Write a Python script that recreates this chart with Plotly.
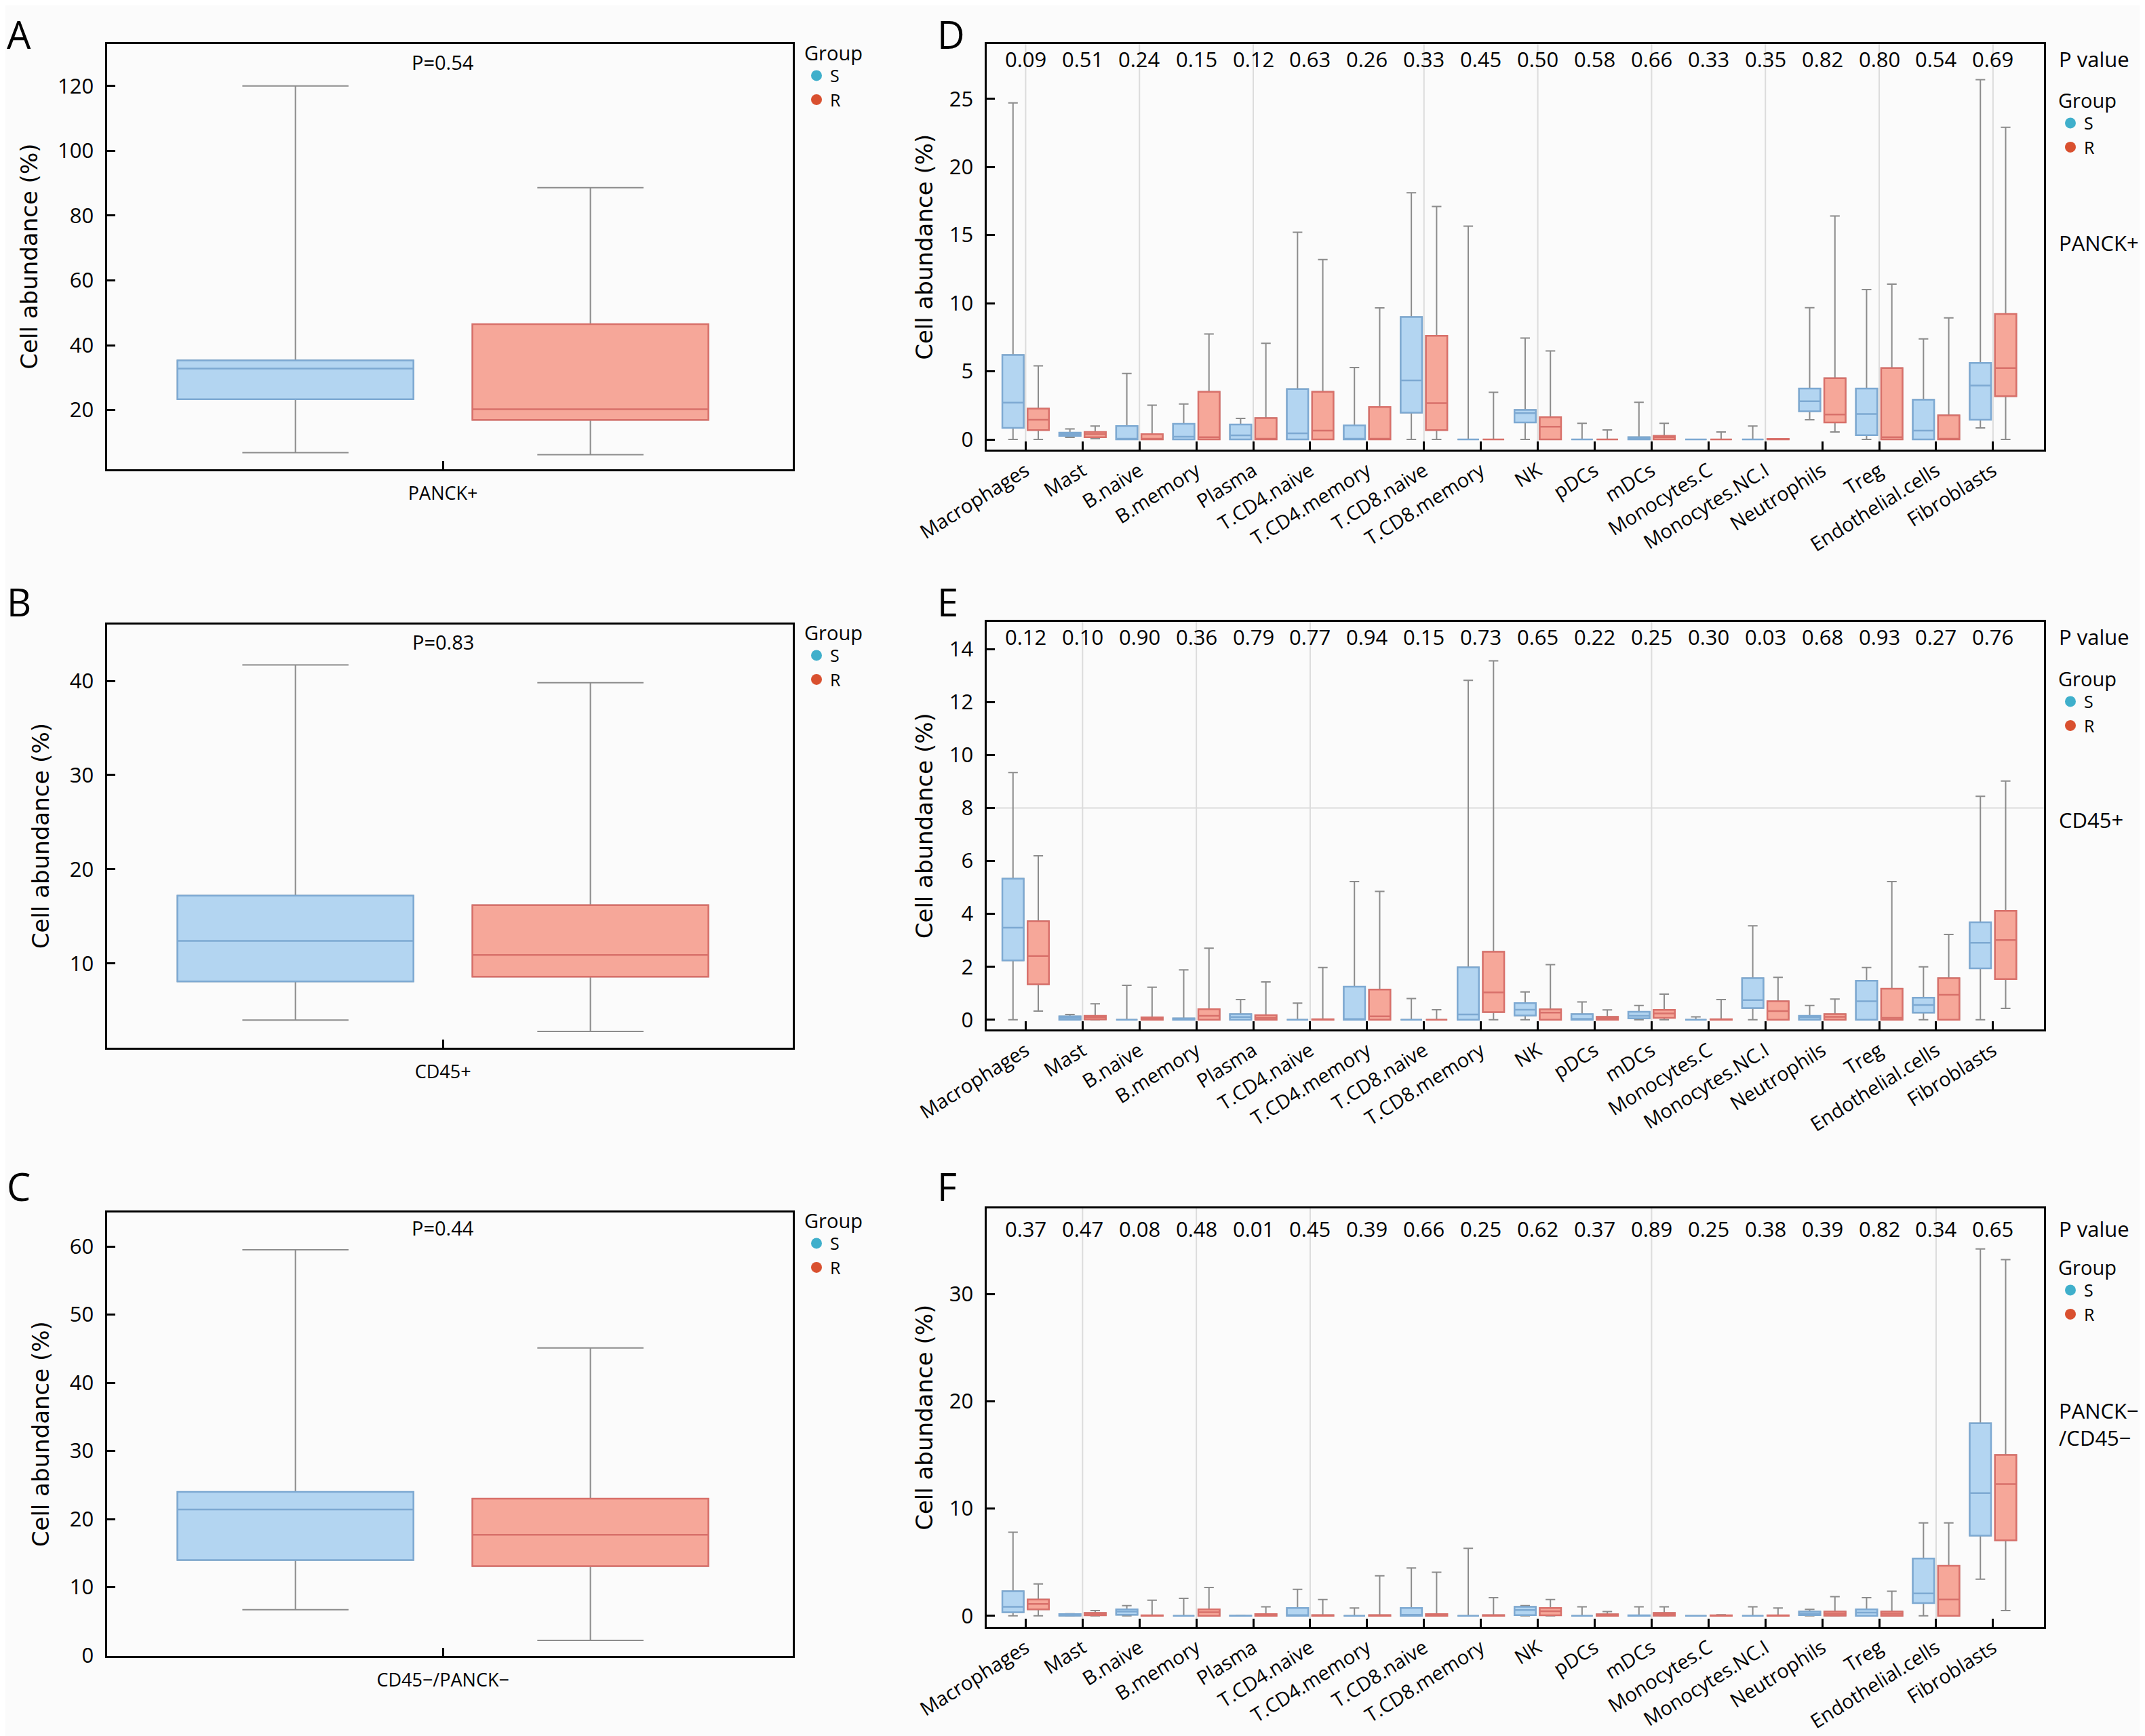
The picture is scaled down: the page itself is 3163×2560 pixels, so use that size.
import plotly.graph_objects as go
from plotly.subplots import make_subplots

# ---- data ----
cells = ["Macrophages", "Mast", "B.naive", "B.memory", "Plasma", "T.CD4.naive",
         "T.CD4.memory", "T.CD8.naive", "T.CD8.memory", "NK", "pDCs", "mDCs",
         "Monocytes.C", "Monocytes.NC.I", "Neutrophils", "Treg",
         "Endothelial.cells", "Fibroblasts"]

# left column: one region per panel
regions = ["PANCK+", "CD45+", "CD45\u2212/PANCK\u2212"]
region_p = ["0.54", "0.83", "0.44"]
# (lower whisker, q1, median, q3, upper whisker)
region_S = [(6.8, 23.3, 32.8, 35.3, 120.0),
            (4.0, 8.1, 12.4, 17.2, 41.7),
            (6.7, 14.0, 21.4, 24.0, 59.5)]
region_R = [(6.2, 16.9, 20.2, 46.5, 88.6),
            (2.8, 8.6, 10.9, 16.2, 39.8),
            (2.2, 13.1, 17.7, 23.0, 45.1)]

# right column: P values per cell type
p_panck = ["0.09", "0.51", "0.24", "0.15", "0.12", "0.63", "0.26", "0.33", "0.45",
           "0.50", "0.58", "0.66", "0.33", "0.35", "0.82", "0.80", "0.54", "0.69"]
p_cd45 = ["0.12", "0.10", "0.90", "0.36", "0.79", "0.77", "0.94", "0.15", "0.73",
          "0.65", "0.22", "0.25", "0.30", "0.03", "0.68", "0.93", "0.27", "0.76"]
p_neg = ["0.37", "0.47", "0.08", "0.48", "0.01", "0.45", "0.39", "0.66", "0.25",
         "0.62", "0.37", "0.89", "0.25", "0.38", "0.39", "0.82", "0.34", "0.65"]

# PANCK+ compartment, (lower whisker, q1, median, q3, upper whisker)
panck_S = [(0, 0.85, 2.7, 6.2, 24.7), (0.15, 0.26, 0.39, 0.5, 0.77),
           (0, 0, 0, 0.98, 4.84), (0, 0, 0.2, 1.14, 2.6),
           (0, 0, 0.3, 1.1, 1.54), (0, 0, 0.45, 3.7, 15.2),
           (0, 0, 0, 1.04, 5.28), (0, 1.97, 4.33, 8.98, 18.1),
           (0, 0, 0, 0, 15.65), (0, 1.24, 1.93, 2.17, 7.44),
           (0, 0, 0, 0, 1.18), (0, 0, 0.06, 0.16, 2.72),
           (0, 0, 0, 0, 0), (0, 0, 0, 0, 0.98),
           (1.44, 2.07, 2.8, 3.74, 9.67), (0, 0.31, 1.87, 3.74, 11.0),
           (0, 0, 0.65, 2.91, 7.38), (0.85, 1.44, 3.96, 5.61, 26.4)]
panck_R = [(0, 0.69, 1.44, 2.26, 5.4), (0.06, 0.16, 0.39, 0.55, 0.98),
           (0, 0, 0.05, 0.39, 2.52), (0, 0, 0.16, 3.5, 7.74),
           (0, 0, 0, 1.57, 7.05), (0, 0, 0.65, 3.5, 13.2),
           (0, 0, 0, 2.38, 9.65), (0, 0.69, 2.66, 7.6, 17.1),
           (0, 0, 0, 0, 3.46), (0, 0, 0.94, 1.63, 6.5),
           (0, 0, 0, 0, 0.7), (0, 0, 0.16, 0.26, 1.18),
           (0, 0, 0, 0, 0.55), (0, 0, 0.02, 0.04, 0.04),
           (0.55, 1.24, 1.83, 4.49, 16.4), (0, 0, 0.16, 5.24, 11.4),
           (0, 0, 0, 1.77, 8.92), (0, 3.17, 5.24, 9.21, 22.9)]

# CD45+ compartment
cd45_S = [(0, 2.24, 3.48, 5.33, 9.34), (0, 0, 0.07, 0.13, 0.2),
          (0, 0, 0, 0, 1.3), (0, 0, 0.02, 0.05, 1.88),
          (0, 0, 0.1, 0.21, 0.76), (0, 0, 0, 0, 0.63),
          (0, 0, 0, 1.25, 5.22), (0, 0, 0, 0, 0.8),
          (0, 0, 0.2, 1.98, 12.82), (0, 0.16, 0.38, 0.63, 1.05),
          (0, 0, 0.03, 0.21, 0.67), (0, 0.05, 0.15, 0.3, 0.54),
          (0, 0, 0, 0, 0.11), (0, 0.44, 0.74, 1.57, 3.55),
          (0, 0, 0.09, 0.15, 0.54), (0, 0, 0.7, 1.47, 1.97),
          (0, 0.27, 0.56, 0.83, 2.0), (0, 1.94, 2.91, 3.68, 8.44)]
cd45_R = [(0.33, 1.34, 2.41, 3.72, 6.19), (0, 0.01, 0.09, 0.15, 0.6),
          (0, 0, 0.03, 0.09, 1.23), (0, 0, 0.15, 0.4, 2.7),
          (0, 0, 0.07, 0.17, 1.43), (0, 0, 0, 0.02, 1.97),
          (0, 0, 0.13, 1.14, 4.85), (0, 0, 0, 0, 0.38),
          (0, 0.29, 1.03, 2.57, 13.56), (0, 0, 0.27, 0.39, 2.08),
          (0, 0, 0.05, 0.11, 0.37), (0, 0.07, 0.24, 0.37, 0.97),
          (0, 0, 0, 0.02, 0.76), (0, 0, 0.33, 0.7, 1.6),
          (0, 0, 0.11, 0.21, 0.78), (0, 0, 0.07, 1.17, 5.22),
          (0, 0, 0.94, 1.57, 3.22), (0.43, 1.54, 3.01, 4.11, 9.02)]

# PANCK-/CD45- compartment
neg_S = [(0, 0.34, 0.85, 2.3, 7.79), (0, 0.03, 0.1, 0.17, 0.2),
         (0, 0.1, 0.4, 0.61, 0.95), (0, 0, 0, 0, 1.63),
         (0, 0, 0, 0.03, 0.05), (0, 0, 0.05, 0.74, 2.47),
         (0, 0, 0, 0, 0.74), (0, 0, 0.1, 0.74, 4.47),
         (0, 0, 0, 0, 6.3), (0, 0.07, 0.54, 0.85, 0.95),
         (0, 0, 0, 0, 0.85), (0, 0, 0.02, 0.05, 0.85),
         (0, 0, 0, 0, 0), (0, 0, 0, 0, 0.85),
         (0, 0.07, 0.2, 0.4, 0.6), (0, 0, 0.3, 0.61, 1.69),
         (0, 1.19, 2.1, 5.35, 8.67), (3.42, 7.48, 11.45, 17.95, 34.2)]
neg_R = [(0, 0.61, 1.12, 1.52, 2.98), (0, 0.05, 0.15, 0.27, 0.5),
         (0, 0, 0.02, 0.05, 1.46), (0, 0, 0.34, 0.61, 2.64),
         (0, 0, 0.07, 0.17, 0.85), (0, 0, 0.02, 0.07, 1.52),
         (0, 0, 0.02, 0.07, 3.73), (0, 0, 0.07, 0.17, 4.06),
         (0, 0, 0.02, 0.07, 1.69), (0, 0.05, 0.44, 0.74, 1.52),
         (0, 0, 0.07, 0.15, 0.4), (0, 0.03, 0.15, 0.27, 0.85),
         (0, 0, 0.02, 0.05, 0.1), (0, 0, 0, 0.05, 0.74),
         (0, 0.03, 0.2, 0.4, 1.8), (0, 0, 0.2, 0.4, 2.3),
         (0, 0, 1.52, 4.67, 8.67), (0.5, 7.04, 12.29, 15.0, 33.2)]

# ---- styles ----
FONT = "Open Sans"
TITLE_FONT = "DejaVu Sans"
S_FILL, R_FILL = "#B3D5F1", "#F6A799"
S_EDGE, R_EDGE = "#7DA9D2", "#D8706A"
S_DOT, R_DOT = "#3FAFCB", "#D9502F"
WHISK = "#8C8C8C"
BG = "#FBFBFB"
TXT = 31

# the page adds an 8px body margin, so lay out in page pixels
W, H, OFF = 3155, 2552, 8


def fx(px):
    return (px - OFF) / W


def fy(py):
    return 1 - (py - OFF) / H


def ydom(top, bottom):
    return [fy(bottom), fy(top)]


fig = make_subplots(rows=3, cols=2)

x_left = [fx(157.5), fx(1169)]
x_right = [fx(1454.5), fx(3014.4)]
y_left = [ydom(64.7, 691.5), ydom(920.7, 1544.5), ydom(1787.8, 2441.6)]
y_right = [ydom(65.3, 663.3), ydom(917, 1518.4), ydom(1781.6, 2399)]


def add_group(row, col, stats, offset, width, fill, edge):
    lo, q1, med, q3, hi = [list(v) for v in zip(*stats)]
    xs = [i + offset for i in range(len(stats))]
    # whiskers in grey
    fig.add_trace(go.Box(x=xs, lowerfence=lo, q1=q1, median=med, q3=q3,
                         upperfence=hi, width=width, orientation="v",
                         fillcolor=fill, line=dict(color=WHISK, width=2),
                         whiskerwidth=0.45, boxpoints=False,
                         showlegend=False, hoverinfo="skip"),
                  row=row, col=col)
    # box body with coloured outline/median
    fig.add_trace(go.Box(x=xs, lowerfence=q1, q1=q1, median=med, q3=q3,
                         upperfence=q3, width=width, orientation="v",
                         fillcolor=fill, line=dict(color=edge, width=2.5),
                         whiskerwidth=0, boxpoints=False,
                         showlegend=False, hoverinfo="skip"),
                  row=row, col=col)


def add_legend(row, col, n):
    key = "legend" if n == 1 else f"legend{n}"
    for name, c in [("S", S_DOT), ("R", R_DOT)]:
        fig.add_trace(go.Scatter(x=[None], y=[None], mode="markers", name=name,
                                 marker=dict(size=16, color=c),
                                 legend=key, showlegend=True),
                      row=row, col=col)
    return key


def legend_box(x, y):
    return dict(x=x, y=y, xanchor="left", yanchor="top", bgcolor="rgba(0,0,0,0)",
                title=dict(text="Group", font=dict(family=FONT, size=29)),
                font=dict(family=FONT, size=25), itemwidth=30, tracegroupgap=0)


def ytitle(standoff):
    return dict(text="Cell abundance (%)", standoff=standoff,
                font=dict(family=TITLE_FONT, size=34, color="black"))


axis_common = dict(showline=True, mirror=True, linecolor="black", linewidth=3,
                   ticks="inside", tickwidth=3, ticklen=12, tickcolor="black",
                   showgrid=False, zeroline=False, automargin=False,
                   tickfont=dict(family=FONT, size=TXT, color="black"))

# ---- left column ----
left_ranges = [[1.8, 133.0], [1.1, 46.0], [-0.05, 65.0]]
left_dticks = [20, 10, 10]
left_p_y = [0.958, 0.958, 0.966]
legend_top_left = [51, 906, 1773]
letters_left = ["A", "B", "C"]
letter_cy = [50, 887, 1749]
layout_legends = {}
n = 0
for k in range(3):
    row = k + 1
    n += 1
    add_group(row, 1, [region_S[k]], -0.215, 0.344, S_FILL, S_EDGE)
    add_group(row, 1, [region_R[k]], 0.215, 0.344, R_FILL, R_EDGE)
    key = add_legend(row, 1, n)
    layout_legends[key] = legend_box(fx(1184), fy(legend_top_left[k]))
    fig.update_xaxes(axis_common, domain=x_left, range=[-0.49, 0.51],
                     tickvals=[0], ticktext=[regions[k]], ticklabelstandoff=10,
                     tickfont_size=27, row=row, col=1)
    fig.update_yaxes(axis_common, domain=y_left[k], range=left_ranges[k],
                     dtick=left_dticks[k], ticklabelstandoff=10, title=ytitle(20),
                     row=row, col=1)
    sfx = "" if row == 1 else str(2 * row - 1)
    fig.add_annotation(text="P=" + region_p[k], xref=f"x{sfx} domain", yref=f"y{sfx} domain",
                       x=0.49, y=left_p_y[k], yanchor="middle", showarrow=False,
                       font=dict(family=FONT, size=TXT - 2, color="black"))
    fig.add_annotation(text=letters_left[k], xref="paper", yref="paper",
                       x=fx(8), y=fy(letter_cy[k]), xanchor="left", yanchor="middle",
                       showarrow=False, font=dict(family=FONT, size=56, color="black"))

# ---- right column ----
right_sets = [(panck_S, panck_R, p_panck, "PANCK+", [-0.76, 29.0], 5,
               [0, 2, 4, 7, 9, 11, 13, 15, 17], None),
              (cd45_S, cd45_R, p_cd45, "CD45+", [-0.375, 15.03], 2,
               [1, 3, 5, 11], 8),
              (neg_S, neg_R, p_neg, "PANCK\u2212<br>/CD45\u2212", [-1.02, 38.0], 10,
               [1, 3, 5, 11, 16], None)]
right_p_y = [0.963, 0.963, 0.951]
legend_top_right = [121, 974, 1842]
label_y = [0.51, 0.515, 0.485]
letters_right = ["D", "E", "F"]
for k, (s_stats, r_stats, pvals, label, yr, dt, grid_idx, hline) in enumerate(right_sets):
    row = k + 1
    n += 1
    add_group(row, 2, s_stats, -0.222, 0.375, S_FILL, S_EDGE)
    add_group(row, 2, r_stats, 0.222, 0.375, R_FILL, R_EDGE)
    key = add_legend(row, 2, n)
    layout_legends[key] = legend_box(fx(3033), fy(legend_top_right[k]))
    fig.update_xaxes(axis_common, domain=x_right, range=[-0.69, 17.9],
                     tickvals=list(range(len(cells))), ticktext=cells,
                     tickangle=-32, tickfont_size=29, row=row, col=2)
    fig.update_yaxes(axis_common, domain=y_right[k], range=yr, dtick=dt,
                     ticklabelstandoff=10, title=ytitle(14), row=row, col=2)
    xa = f"x{2 * row}"
    ya = f"y{2 * row}"
    for i, p in enumerate(pvals):
        fig.add_annotation(text=p, xref=xa, yref=ya + " domain", x=i, y=right_p_y[k],
                           yanchor="middle", showarrow=False,
                           font=dict(family=FONT, size=TXT, color="black"))
    fig.add_annotation(text="P value", xref="paper", yref=ya + " domain", x=fx(3034),
                       y=right_p_y[k], xanchor="left", yanchor="middle", showarrow=False,
                       font=dict(family=FONT, size=TXT, color="black"))
    fig.add_annotation(text=label, xref="paper", yref=ya + " domain", x=fx(3034),
                       y=label_y[k], xanchor="left", yanchor="middle", align="left",
                       showarrow=False, font=dict(family=FONT, size=TXT, color="black"))
    fig.add_annotation(text=letters_right[k], xref="paper", yref="paper",
                       x=fx(1380), y=fy(letter_cy[k]), xanchor="left", yanchor="middle",
                       showarrow=False, font=dict(family=FONT, size=56, color="black"))
    for g in grid_idx:
        fig.add_shape(type="line", xref=xa, yref=ya + " domain", x0=g, x1=g, y0=0, y1=1,
                      line=dict(color="#DCDCDC", width=2), layer="below")
    if hline is not None:
        fig.add_shape(type="line", xref=xa + " domain", yref=ya, x0=0, x1=1,
                      y0=hline, y1=hline, line=dict(color="#DCDCDC", width=2),
                      layer="below")

fig.update_layout(width=W, height=H, autosize=False,
                  margin=dict(l=0, r=0, t=0, b=0),
                  paper_bgcolor=BG, plot_bgcolor=BG,
                  font=dict(family=FONT, color="black"),
                  **layout_legends)

fig.write_html("out.html")
